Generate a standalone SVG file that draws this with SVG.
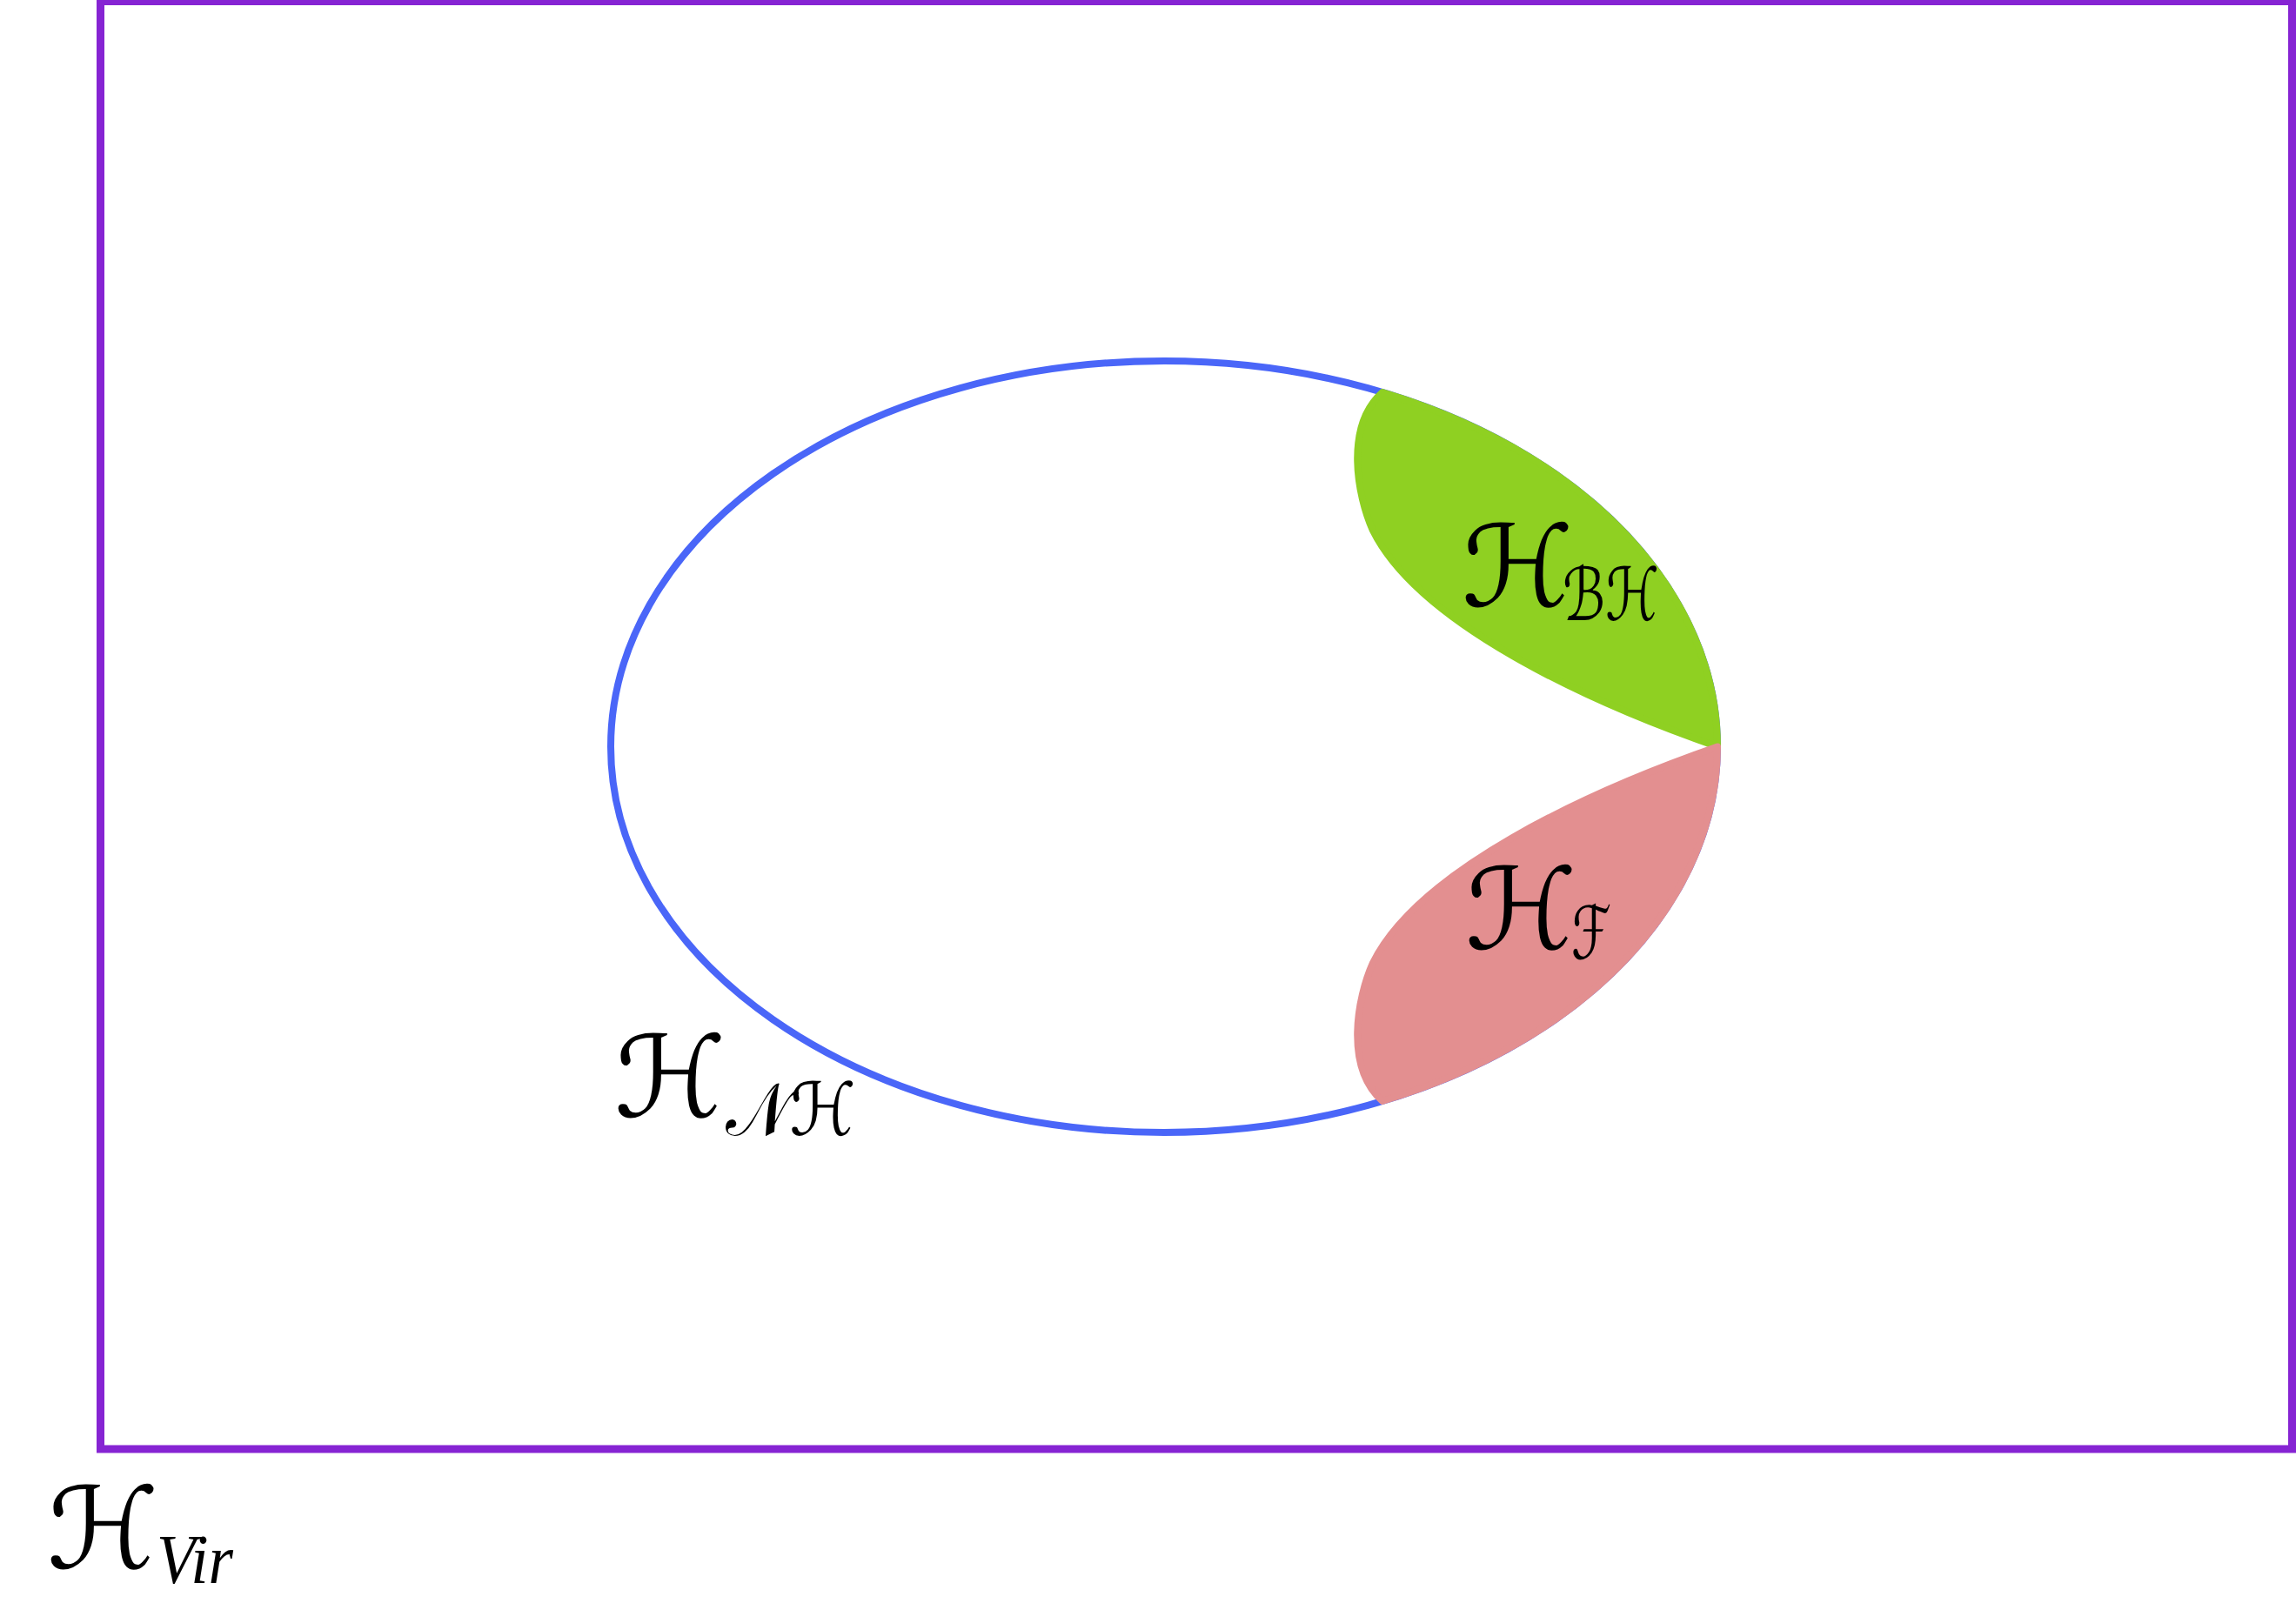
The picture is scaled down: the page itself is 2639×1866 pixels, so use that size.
<svg xmlns="http://www.w3.org/2000/svg" width="2639" height="1866" viewBox="0 0 2639 1866">
<style>
.frame{fill:none;stroke:#8624D3;stroke-width:9}
.ell{fill:none;stroke:#4A66F8;stroke-width:8}
.big{font-family:"DejaVu Serif","DejaVu Sans",serif;font-size:130px;fill:#000}
.sub{font-family:"DejaVu Serif","DejaVu Sans",serif;font-size:84px;fill:#000}
.vir{font-family:"Liberation Serif",serif;font-style:italic;font-size:80px;fill:#000}
</style>
<rect width="2639" height="1866" fill="#fff"/>
<g id="virtual">
<rect class="frame" x="115.5" y="1.5" width="2519" height="1664.5"/>
<text class="big" x="54" y="1803">ℋ</text>
<text class="vir" x="180" y="1820" textLength="88" lengthAdjust="spacingAndGlyphs">Vir</text>
</g>
<g id="nonhyperbolic">
<ellipse class="ell" cx="1338" cy="858.5" rx="636" ry="443.5"/>
<text class="big" x="706" y="1284">ℋ</text>
<text class="sub" x="834" y="1305" textLength="150" lengthAdjust="spacingAndGlyphs">𝒩ℋ</text>
</g>
<g id="blackhole">
<path fill="#8FD022" stroke="#8FD022" stroke-width="8" stroke-linejoin="round" d="M1589,451 A636,443.5 0 0 1 1974,858.5 C1820,805 1630,715 1578,610 C1560,570 1545,490 1589,451 Z"/>
<text class="big" x="1680" y="697">ℋ</text>
<text class="sub" x="1796" y="713" textLength="111" lengthAdjust="spacingAndGlyphs">ℬℋ</text>
</g>
<g id="filament">
<path fill="#E38F90" stroke="#E38F90" stroke-width="8" stroke-linejoin="round" d="M1589,1266 A636,443.5 0 0 0 1974,858.5 C1820,912 1630,1002 1578,1107 C1560,1147 1545,1227 1589,1266 Z"/>
<text class="big" x="1684" y="1091">ℋ</text>
<text class="sub" x="1806" y="1102" textLength="46" lengthAdjust="spacingAndGlyphs">ℱ</text>
</g>
</svg>
